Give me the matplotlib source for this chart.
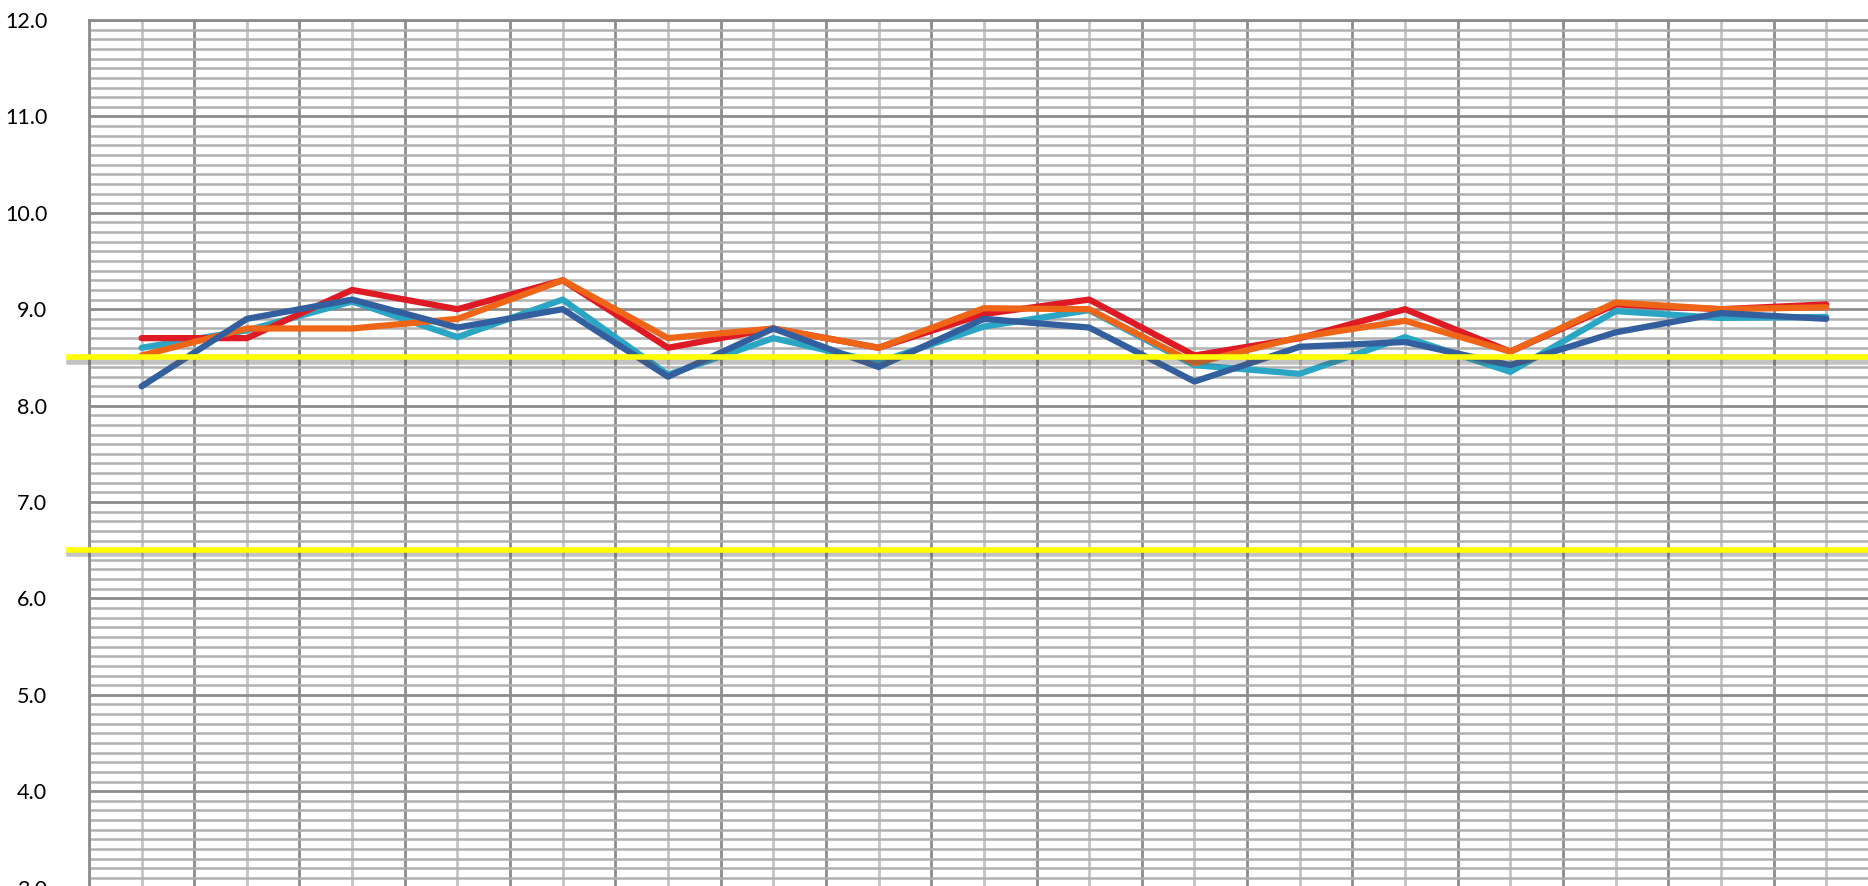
import numpy as np
import matplotlib
matplotlib.use("Agg")
import matplotlib.pyplot as plt
from matplotlib import patheffects as pe
from matplotlib.ticker import MultipleLocator, FormatStrFormatter

plt.rcParams['font.family'] = ['Lato', 'DejaVu Sans']

# values, 17 points per series
red = [8.70, 8.70, 9.20, 9.00, 9.30, 8.60, 8.80, 8.60, 8.95, 9.10, 8.52, 8.70, 9.00, 8.56, 9.05, 9.00, 9.05]
teal = [8.60, 8.78, 9.08, 8.71, 9.10, 8.32, 8.70, 8.45, 8.82, 8.99, 8.42, 8.33, 8.71, 8.35, 8.98, 8.91, 8.92]
orange = [8.52, 8.80, 8.80, 8.90, 9.30, 8.70, 8.80, 8.60, 9.01, 9.00, 8.44, 8.71, 8.88, 8.56, 9.07, 9.00, 9.02]
blue = [8.20, 8.90, 9.10, 8.81, 9.00, 8.30, 8.80, 8.40, 8.90, 8.81, 8.25, 8.61, 8.66, 8.42, 8.76, 8.96, 8.90]
limits = [8.5, 6.5]

x = np.arange(len(red))

fig = plt.figure(figsize=(18.68, 8.86), dpi=100)
ax = fig.add_axes([0.0476, -0.0018, 0.9582, 0.9792])

ax.set_xlim(-0.5, len(red) - 0.5)
ax.set_ylim(3, 12)

# grid like the spreadsheet
ax.yaxis.set_major_locator(MultipleLocator(1))
ax.yaxis.set_minor_locator(MultipleLocator(0.1))
ax.yaxis.set_major_formatter(FormatStrFormatter('%.1f'))
ax.set_xticks(np.arange(-0.5, len(red), 1))
ax.set_xticks(x, minor=True)
ax.grid(which='major', axis='both', color='#8c8c8c', linewidth=2)
ax.grid(which='minor', axis='y', color='#b0b0b0', linewidth=1.8)
ax.grid(which='minor', axis='x', color='#c4c4c4', linewidth=2)
ax.set_axisbelow(True)

ax.tick_params(axis='both', which='both', length=0)
ax.tick_params(axis='x', labelbottom=False)
ax.tick_params(axis='y', labelsize=15.5, pad=30)
for s in ax.spines.values():
    s.set_color('#8c8c8c')
    s.set_linewidth(2)

ax.plot(x, teal, color='#2ba5c4', linewidth=4.5, solid_capstyle='round', zorder=3)
ax.plot(x, red, color='#de1a24', linewidth=4.5, solid_capstyle='round', zorder=3)
ax.plot(x, orange, color='#ef6518', linewidth=4.5, solid_capstyle='round', zorder=3)
ax.plot(x, blue, color='#345f9e', linewidth=4.5, solid_capstyle='round', zorder=3)

for y in limits:
    ax.axhline(y, xmin=-0.011, xmax=1, color='#ffff00', linewidth=4, clip_on=False, zorder=4,
               path_effects=[pe.SimpleLineShadow(offset=(0, -3), shadow_color='#555555', alpha=0.35),
                             pe.Normal()])

fig.savefig("out.png", dpi=100)
